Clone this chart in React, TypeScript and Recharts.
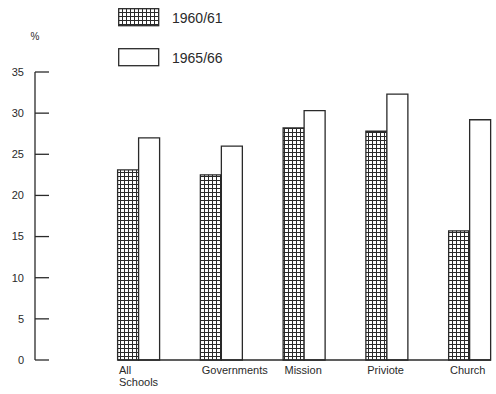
import React from "react";
import { BarChart, Bar, XAxis, YAxis, Legend } from "recharts";

const categories = ["All Schools", "Governments", "Mission", "Priviote", "Church"];
const values196061 = [23.1, 22.5, 28.2, 27.8, 15.7];
const values196566 = [27.0, 26.0, 30.3, 32.3, 29.2];
const yTicks = [0, 5, 10, 15, 20, 25, 30, 35];
const seriesNames = ["1960/61", "1965/66"];

const data = categories.map((c, i) => ({
  name: c,
  a: values196061[i],
  b: values196566[i],
}));

const INK = "#2a2a2a";
const FONT = "'Liberation Sans', Arial, sans-serif";

const XTick = (props: any) => {
  const { x, y, payload } = props;
  const words = String(payload.value).split(" ");
  return (
    <text x={x - 20} y={y + 6} fill={INK} fontSize={11} fontFamily={FONT} textAnchor="start">
      {words.map((w, i) => (
        <tspan key={i} x={x - 20} dy={i === 0 ? 0 : 12}>
          {w}
        </tspan>
      ))}
    </text>
  );
};

const LegendContent = (props: any) => {
  const { payload } = props;
  return (
    <div>
      {(payload || []).map((p: any, i: number) => (
        <div key={i} style={{ display: "flex", alignItems: "center", height: 19, marginBottom: i === 0 ? 21 : 0 }}>
          <svg width={42} height={19} style={{ display: "block" }}>
            <rect
              x={0.7}
              y={0.7}
              width={40}
              height={17}
              fill={i === 0 ? "url(#hatch)" : "#fff"}
              stroke={INK}
              strokeWidth={1.3}
            />
          </svg>
          <span style={{ marginLeft: 12, fontFamily: FONT, fontSize: 14, color: INK }}>{p.value}</span>
        </div>
      ))}
    </div>
  );
};

export default function App() {
  return (
    <div style={{ position: "absolute", left: 0, top: 0, width: 496, height: 394, background: "#fff" }}>
      <svg width={0} height={0} style={{ position: "absolute" }}>
        <defs>
          <pattern id="hatch" patternUnits="userSpaceOnUse" width={4} height={4}>
            <rect x={0} y={0} width={4} height={4} fill="#fff" />
            <path d="M0 0.5 H4 M0.5 0 V4" stroke={INK} strokeWidth={1} />
          </pattern>
        </defs>
      </svg>
      <BarChart
        width={496}
        height={394}
        data={data}
        margin={{ top: 72, right: 5, bottom: 4, left: 10 }}
        barSize={21}
        barGap={0}
      >
        <YAxis
          yAxisId="inner"
          type="number"
          domain={[0, 35]}
          width={83}
          axisLine={false}
          tickLine={false}
          tick={false}
        />
        <YAxis
          yAxisId="main"
          type="number"
          domain={[0, 35]}
          ticks={yTicks}
          width={25}
          interval={0}
          axisLine={{ stroke: INK, strokeWidth: 1.3 }}
          tickLine={{ stroke: INK, strokeWidth: 1.3 }}
          tickSize={-14}
          tickMargin={25}
          tick={{ fill: INK, fontSize: 11, fontFamily: FONT }}
          label={({ viewBox }: any) => (
            <text
              x={viewBox.x + viewBox.width}
              y={viewBox.y - 32}
              fill={INK}
              fontSize={10}
              fontFamily={FONT}
              textAnchor="middle"
            >
              %
            </text>
          )}
        />
        <XAxis
          dataKey="name"
          height={30}
          padding={{ left: -20.4, right: -20.4 }}
          axisLine={{ stroke: INK, strokeWidth: 1.3 }}
          tickLine={false}
          interval={0}
          tick={<XTick />}
        />
        <Legend
          layout="vertical"
          align="center"
          verticalAlign="middle"
          wrapperStyle={{ left: 118, top: 8 }}
          content={<LegendContent />}
        />
        <Bar
          yAxisId="main"
          dataKey="a"
          name={seriesNames[0]}
          fill="url(#hatch)"
          stroke={INK}
          strokeWidth={1.3}
          isAnimationActive={false}
        />
        <Bar
          yAxisId="main"
          dataKey="b"
          name={seriesNames[1]}
          fill="#fff"
          stroke={INK}
          strokeWidth={1.3}
          isAnimationActive={false}
        />
      </BarChart>
    </div>
  );
}
